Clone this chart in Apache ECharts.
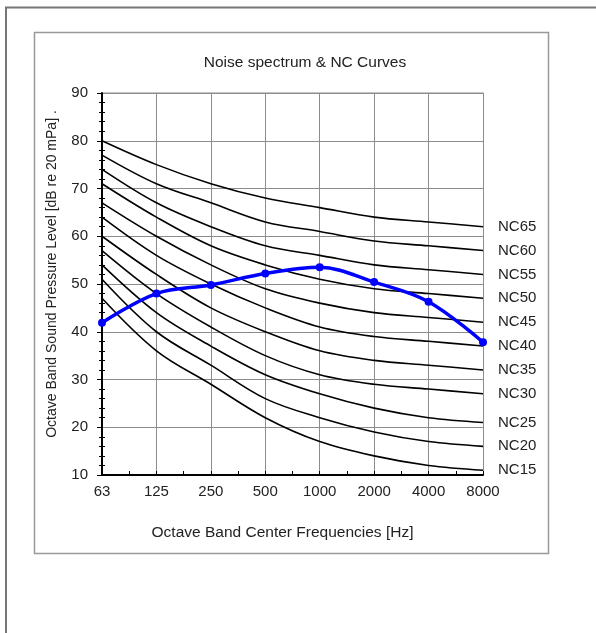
<!DOCTYPE html>
<html>
<head>
<meta charset="utf-8">
<script src="https://cdn.jsdelivr.net/npm/echarts@6/dist/echarts.min.js"></script>
<style>
  html, body { margin: 0; padding: 0; background: #fff; }
  #main { width: 596px; height: 633px; }
</style>
</head>
<body>
<div id="main"></div>
<script>
// octave band centre frequencies (x axis labels)
var freqs = ['63', '125', '250', '500', '1000', '2000', '4000', '8000'];

// NC curves, dB per band
var nc15 = [47, 36, 29, 22, 17, 14, 12, 11];
var nc20 = [51, 40, 33, 26, 22, 19, 17, 16];
var nc25 = [54, 44, 37, 31, 27, 24, 22, 21];
var nc30 = [57, 48, 41, 35, 31, 29, 28, 27];
var nc35 = [60, 52, 45, 40, 36, 34, 33, 32];
var nc40 = [64, 56, 50, 45, 41, 39, 38, 37];
var nc45 = [67, 60, 54, 49, 46, 44, 43, 42];
var nc50 = [71, 64, 58, 54, 51, 49, 48, 47];
var nc55 = [74, 67, 62, 58, 56, 54, 53, 52];
var nc60 = [77, 71, 67, 63, 61, 59, 58, 57];
var nc65 = [80, 75, 71, 68, 66, 64, 63, 62];

// measured noise spectrum
var noise = [41.9, 48.0, 49.8, 52.2, 53.5, 50.4, 46.3, 37.8];

var ncNames = ['NC15', 'NC20', 'NC25', 'NC30', 'NC35', 'NC40', 'NC45', 'NC50', 'NC55', 'NC60', 'NC65'];
var ncData = [nc15, nc20, nc25, nc30, nc35, nc40, nc45, nc50, nc55, nc60, nc65];

function pairs(arr) {
    return arr.map(function (v, i) { return [i, v]; });
}

var txt = '#222';
var font = 'Liberation Sans, Arial, sans-serif';

var series = [];
ncData.forEach(function (d, k) {
    series.push({
        name: ncNames[k],
        type: 'line',
        data: pairs(d),
        smooth: 0.35,
        symbol: 'none',
        lineStyle: { color: '#000', width: 1.6 },
        endLabel: {
            show: true,
            formatter: '{a}',
            distance: 15,
            color: txt,
            fontSize: 15,
            fontFamily: font
        },
        z: 3
    });
});
series.push({
    name: 'Noise',
    type: 'line',
    data: pairs(noise),
    smooth: 0.35,
    symbol: 'circle',
    symbolSize: 8,
    itemStyle: { color: '#0000ff' },
    lineStyle: { color: '#0000ff', width: 3.5 },
    z: 5
});

var chart = echarts.init(document.getElementById('main'), null, { renderer: 'canvas' });
var option = {
    animation: false,
    backgroundColor: '#fff',
    title: {
        text: 'Noise spectrum & NC Curves',
        left: 300,
        top: 50,
        textAlign: 'center',
        textStyle: { color: txt, fontSize: 15.5, fontWeight: 'normal', fontFamily: font }
    },
    grid: { left: 102, right: 113, top: 93, bottom: 158 },
    xAxis: {
        type: 'value',
        min: 0,
        max: 7,
        interval: 1,
        name: 'Octave Band Center Frequencies [Hz]',
        nameLocation: 'middle',
        nameGap: 50,
        nameTextStyle: { color: txt, fontSize: 15.5, fontFamily: font, padding: [0, 20, 0, 0] },
        axisLine: { show: true, onZero: false, lineStyle: { color: '#000', width: 2 } },
        axisTick: { show: true, inside: true, length: 4, lineStyle: { color: '#000' } },
        minorTick: { show: true, splitNumber: 2, length: 4, lineStyle: { color: '#000' } },
        axisLabel: {
            color: txt, fontSize: 15, fontFamily: font, margin: 9,
            formatter: function (v) { return freqs[v]; }
        },
        splitLine: { show: true, lineStyle: { color: '#8c8c8c', width: 1 } }
    },
    yAxis: [{
        type: 'value',
        min: 10,
        max: 90,
        interval: 10,
        name: 'Octave Band Sound Pressure Level [dB re 20 mPa] .',
        nameLocation: 'middle',
        nameGap: 43,
        nameTextStyle: { color: txt, fontSize: 14, fontFamily: font, padding: [0, 0, 0, 20] },
        axisLine: { show: true, onZero: false, lineStyle: { color: '#000', width: 2 } },
        axisTick: { show: true, length: 5, lineStyle: { color: '#000' } },
        minorTick: { show: true, splitNumber: 5, length: 3, lineStyle: { color: '#000' } },
        axisLabel: { color: txt, fontSize: 15, fontFamily: font, margin: 14 },
        splitLine: { show: true, lineStyle: { color: '#8c8c8c', width: 1 } }
    }, {
        type: 'value',
        position: 'left',
        min: 10,
        max: 90,
        interval: 10,
        axisLine: { show: false },
        axisTick: { show: false, inside: true, length: 3 },
        minorTick: { show: true, splitNumber: 5, length: 3, lineStyle: { color: '#000' } },
        axisLabel: { show: false },
        splitLine: { show: false }
    }],
    graphic: [
        {
            type: 'rect',
            shape: { x: 6, y: 7.5, width: 620, height: 660 },
            style: { fill: null, stroke: '#777', lineWidth: 2 },
            silent: true, z: -10
        },
        {
            type: 'rect',
            shape: { x: 34.5, y: 32.5, width: 514, height: 521 },
            style: { fill: null, stroke: '#999', lineWidth: 1.5 },
            silent: true, z: -10
        },
        {
            type: 'rect',
            shape: { x: 102.5, y: 93, width: 381, height: 382 },
            style: { fill: null, stroke: '#8c8c8c', lineWidth: 1 },
            silent: true, z: 0
        }
    ],
    series: series
};
chart.setOption(option);
</script>
</body>
</html>
